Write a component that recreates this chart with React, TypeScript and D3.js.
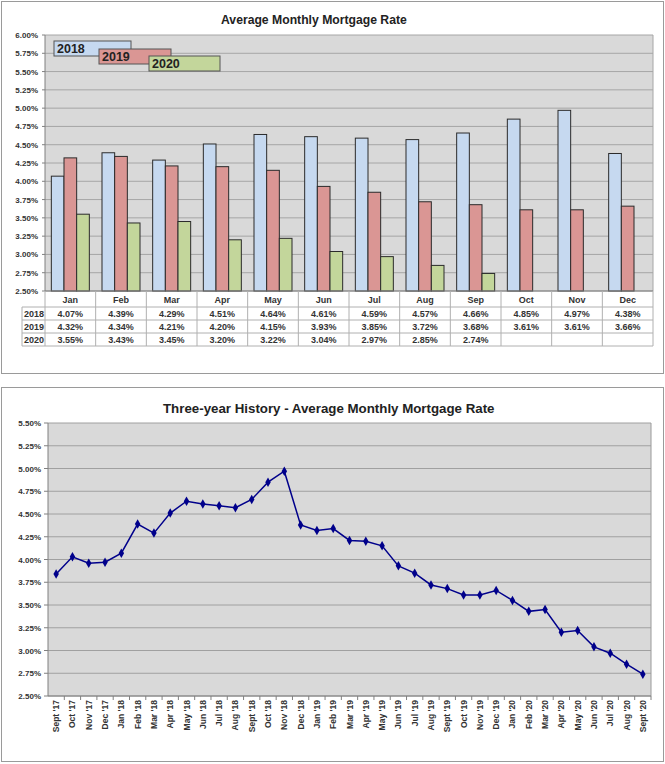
import React from "react";
import * as d3 from "d3";

const months = ["Jan", "Feb", "Mar", "Apr", "May", "Jun", "Jul", "Aug", "Sep", "Oct", "Nov", "Dec"];
const seriesNames = ["2018", "2019", "2020"];
const rates2018 = [4.07, 4.39, 4.29, 4.51, 4.64, 4.61, 4.59, 4.57, 4.66, 4.85, 4.97, 4.38];
const rates2019 = [4.32, 4.34, 4.21, 4.2, 4.15, 3.93, 3.85, 3.72, 3.68, 3.61, 3.61, 3.66];
const rates2020 = [3.55, 3.43, 3.45, 3.2, 3.22, 3.04, 2.97, 2.85, 2.74];
const rates2017Tail = [3.84, 4.03, 3.96, 3.97];
const topTicks = [2.5, 2.75, 3.0, 3.25, 3.5, 3.75, 4.0, 4.25, 4.5, 4.75, 5.0, 5.25, 5.5, 5.75, 6.0];
const bottomTicks = [2.5, 2.75, 3.0, 3.25, 3.5, 3.75, 4.0, 4.25, 4.5, 4.75, 5.0, 5.25, 5.5];
const historyLabels = [
  "Sept '17", "Oct '17", "Nov '17", "Dec '17",
  "Jan '18", "Feb '18", "Mar '18", "Apr '18", "May '18", "Jun '18", "Jul '18", "Aug '18", "Sept '18", "Oct '18", "Nov '18", "Dec '18",
  "Jan '19", "Feb '19", "Mar '19", "Apr '19", "May '19", "Jun '19", "Jul '19", "Aug '19", "Sept '19", "Oct '19", "Nov '19", "Dec '19",
  "Jan '20", "Feb '20", "Mar '20", "Apr '20", "May '20", "Jun '20", "Jul '20", "Aug '20", "Sept '20",
];
const historyValues = [...rates2017Tail, ...rates2018, ...rates2019, ...rates2020];

const FONT = "'Liberation Sans', Arial, sans-serif";
const fills = ["#c6d9f0", "#da9694", "#c3d69b"];
const allSeries = [rates2018, rates2019, rates2020];
const fmt = (v: number) => v.toFixed(2) + "%";

function TopChart() {
  const L = 45, R = 653, T = 35, B = 291;
  const x = d3.scaleBand<string>().domain(months).range([L, R]);
  const y = d3.scaleLinear().domain([2.5, 6.0]).range([B, T]);
  const bw = x.bandwidth();
  const rowY = [291, 307, 320, 333, 346];
  return (
    <g>
      <rect x={1.5} y={1.5} width={662} height={372} fill="#fff" stroke="#9a9a9a" />
      <text x={221} y={24} textAnchor="start" fontFamily={FONT} fontWeight="bold" fontSize={12.2} fill="#222">
        Average Monthly Mortgage Rate
      </text>
      <rect x={L} y={T} width={R - L} height={B - T} fill="#d9d9d9" />
      {topTicks.map((t) => (
        <g key={t}>
          <line x1={L} x2={R} y1={y(t)} y2={y(t)} stroke="#a6a6a6" strokeWidth={1} />
          <line x1={L - 3} x2={L} y1={y(t)} y2={y(t)} stroke="#808080" />
          <text x={38} y={y(t) + 3} textAnchor="end" fontFamily={FONT} fontWeight="bold" fontSize={8} fill="#333">
            {fmt(t)}
          </text>
        </g>
      ))}
      <line x1={L} x2={L} y1={T} y2={B} stroke="#808080" />
      <line x1={R} x2={R} y1={T} y2={B} stroke="#a6a6a6" />
      {allSeries.map((s, si) =>
        s.map((v, i) => (
          <rect
            key={si + "-" + i}
            x={(x(months[i]) as number) + bw / 8 + (si * bw) / 4}
            y={y(v)}
            width={bw / 4}
            height={B - y(v)}
            fill={fills[si]}
            stroke="#2b2b2b"
            strokeWidth={1}
          />
        ))
      )}
      {seriesNames.map((n, i) => {
        const lx = [54, 99, 149][i];
        const ly = [41, 49, 56][i];
        const lw = [77, 72, 71][i];
        return (
          <g key={n}>
            <rect x={lx} y={ly} width={lw} height={15} fill={fills[i]} stroke="#555" strokeWidth={1} />
            <text x={lx + 3} y={ly + 12} fontFamily={FONT} fontWeight="bold" fontSize={12.5} fill="#222">
              {n}
            </text>
          </g>
        );
      })}
      <g stroke="#b0b0b0" strokeWidth={1}>
        <line x1={L} x2={R} y1={rowY[0]} y2={rowY[0]} stroke="#808080" />
        {rowY.slice(1).map((ry) => (
          <line key={ry} x1={22} x2={R} y1={ry} y2={ry} />
        ))}
        <line x1={22} x2={22} y1={rowY[1]} y2={rowY[4]} />
        {months.map((m) => (
          <line key={m} x1={x(m)} x2={x(m)} y1={rowY[0]} y2={rowY[4]} />
        ))}
        <line x1={R} x2={R} y1={rowY[0]} y2={rowY[4]} />
      </g>
      {months.map((m) => (
        <text key={m} x={(x(m) as number) + bw / 2} y={303} textAnchor="middle" fontFamily={FONT} fontWeight="bold" fontSize={9} fill="#333">
          {m}
        </text>
      ))}
      {seriesNames.map((n, si) => (
        <g key={n}>
          <text x={24} y={rowY[si + 1] + 10} fontFamily={FONT} fontWeight="bold" fontSize={9} fill="#333">
            {n}
          </text>
          {allSeries[si].map((v, i) => (
            <text key={i} x={(x(months[i]) as number) + bw / 2} y={rowY[si + 1] + 10} textAnchor="middle" fontFamily={FONT} fontWeight="bold" fontSize={9} fill="#333">
              {fmt(v)}
            </text>
          ))}
        </g>
      ))}
    </g>
  );
}

function BottomChart() {
  const L = 48, R = 651, T = 423, B = 696;
  const x = d3.scaleBand<string>().domain(historyLabels).range([L, R]);
  const y = d3.scaleLinear().domain([2.5, 5.5]).range([B, T]);
  const bw = x.bandwidth();
  const cx = (i: number) => (x(historyLabels[i]) as number) + bw / 2;
  const line = d3
    .line<number>()
    .x((_, i) => cx(i))
    .y((v) => y(v));
  const diamond = d3.symbol().type(d3.symbolDiamond).size(26)();
  return (
    <g>
      <rect x={1.5} y={387.5} width={662} height={374} fill="#fff" stroke="#9a9a9a" />
      <text x={163} y={413} textAnchor="start" fontFamily={FONT} fontWeight="bold" fontSize={13.3} fill="#222">
        Three-year History - Average Monthly Mortgage Rate
      </text>
      <rect x={L} y={T} width={R - L} height={B - T} fill="#d9d9d9" />
      {bottomTicks.map((t) => (
        <g key={t}>
          <line x1={L} x2={R} y1={y(t)} y2={y(t)} stroke="#a0a0a0" />
          <line x1={L - 4} x2={L} y1={y(t)} y2={y(t)} stroke="#808080" />
          <text x={41} y={y(t) + 3} textAnchor="end" fontFamily={FONT} fontWeight="bold" fontSize={8} fill="#333">
            {fmt(t)}
          </text>
        </g>
      ))}
      <line x1={L} x2={L} y1={T} y2={B} stroke="#808080" />
      <line x1={R} x2={R} y1={T} y2={B} stroke="#9a9a9a" />
      <line x1={L} x2={R} y1={B} y2={B} stroke="#808080" />
      {historyLabels.map((lab, i) => (
        <line key={"t" + i} x1={(x(lab) as number) + bw} x2={(x(lab) as number) + bw} y1={B} y2={B + 4} stroke="#808080" />
      ))}
      {historyLabels.map((lab, i) => (
        <text
          key={lab}
          transform={`translate(${cx(i) + 3},${B + 4}) rotate(-90)`}
          textAnchor="end"
          fontFamily={FONT}
          fontWeight="bold"
          fontSize={8.5}
          fill="#333"
        >
          {lab}
        </text>
      ))}
      <path d={line(historyValues) || ""} fill="none" stroke="#00008b" strokeWidth={1.5} />
      {historyValues.map((v, i) => (
        <path key={i} d={diamond || ""} transform={`translate(${cx(i)},${y(v)})`} fill="#00008b" />
      ))}
    </g>
  );
}

export default function App() {
  return (
    <svg width={665} height={764} style={{ position: "absolute", left: 0, top: 0, background: "#fff" }}>
      <TopChart />
      <BottomChart />
    </svg>
  );
}
